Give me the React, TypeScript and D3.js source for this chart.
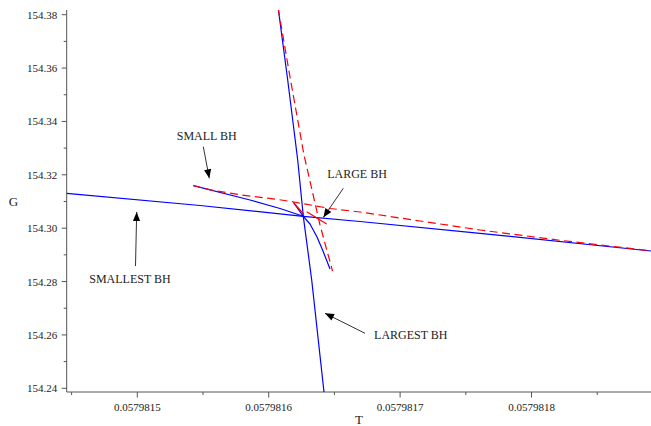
import React from "react";
import * as d3 from "d3";

// ---- data (T, G) ----
const xTicks = [0.0579815, 0.0579816, 0.0579817, 0.0579818];
const xMinorTicks = [0.05798145, 0.05798155, 0.05798165, 0.05798175, 0.05798185];
const yTicks = [154.24, 154.26, 154.28, 154.3, 154.32, 154.34, 154.36, 154.38];
const yMinorTicks = [154.25, 154.27, 154.29, 154.31, 154.33, 154.35, 154.37];

const T_DOMAIN = [0.05798144627, 0.05798189094];
const G_DOMAIN = [154.23861, 154.38176];

// blue, solid
const blueMain: [number, number][] = [
  [0.05798144627, 154.31307],
  [0.05798154772, 154.3085],
  [0.05798162633, 154.30445],
  [0.05798166948, 154.3025],
  [0.05798176081, 154.29808],
  [0.05798189094, 154.29145],
];
const blueSteep: [number, number][] = [
  [0.05798160731, 154.38214],
  [0.05798161446, 154.35553],
  [0.05798162207, 154.32555],
  [0.05798162633, 154.30445],
  [0.05798163272, 154.28058],
  [0.05798164208, 154.23861],
];
const blueSmall: [number, number][] = [
  [0.05798154262, 154.31592],
  [0.05798158577, 154.31056],
  [0.0579816086, 154.30738],
  [0.05798162633, 154.30445],
  [0.05798163143, 154.30157],
  [0.05798163676, 154.2967],
  [0.05798164132, 154.29145],
  [0.05798164665, 154.2847],
];
const blueKink: [number, number][] = [
  [0.05798161887, 154.30962],
  [0.05798162633, 154.30445],
];

// red, dashed
const redLong: [number, number][] = [
  [0.05798154262, 154.31599],
  [0.05798155685, 154.31423],
  [0.05798157816, 154.31251],
  [0.05798160609, 154.31082],
  [0.05798161925, 154.30981],
  [0.05798164665, 154.30738],
  [0.05798166948, 154.30606],
  [0.05798171514, 154.30269],
  [0.05798176081, 154.29932],
  [0.05798182169, 154.29546],
  [0.05798189094, 154.29152],
];
const redSteep: [number, number][] = [
  [0.05798160731, 154.38214],
  [0.05798161621, 154.35665],
  [0.05798162686, 154.32742],
  [0.05798163295, 154.31431],
  [0.05798163904, 154.30119],
  [0.05798164856, 154.28395],
];
// red, short solid pieces near the crossing
const redKinkA: [number, number][] = [
  [0.05798161887, 154.30962],
  [0.05798162686, 154.30513],
];
const redKinkB: [number, number][] = [
  [0.05798162892, 154.30618],
  [0.05798164414, 154.30157],
];

// annotations (data coordinates)
const labels = ["SMALL BH", "LARGE BH", "SMALLEST BH", "LARGEST BH"];
const labelT = [0.05798155282, 0.0579816672, 0.05798149444, 0.05798170814];
const labelG = [154.33323, 154.31899, 154.27946, 154.25847];
const arrowFromT = [0.05798155023, 0.05798165677, 0.05798149863, 0.05798167329];
const arrowFromG = [154.33053, 154.31494, 154.28583, 154.26061];
const arrowToT = [0.05798155479, 0.05798164155, 0.05798149954, 0.05798164285];
const arrowToG = [154.31869, 154.304, 154.30606, 154.2681];

const W = 651;
const H = 426;
const FONT = "'Liberation Serif', 'Times New Roman', serif";

export default function App() {
  const x = d3.scaleLinear().domain(T_DOMAIN).range([66.7, 651]);
  const y = d3.scaleLinear().domain(G_DOMAIN).range([392, 10]);
  const line = d3
    .line<[number, number]>()
    .x((d) => x(d[0]))
    .y((d) => y(d[1]));

  const [x0, x1] = x.range();
  const [y0, y1] = y.range();
  const fmtX = d3.format(".7f");
  const fmtY = d3.format(".2f");

  const arrowHead = (fx: number, fy: number, tx: number, ty: number) => {
    const dx = tx - fx;
    const dy = ty - fy;
    const len = Math.hypot(dx, dy);
    const ux = dx / len;
    const uy = dy / len;
    const L = 9;
    const Wd = 3.6;
    const bx = tx - ux * L;
    const by = ty - uy * L;
    return `M${tx},${ty}L${bx - uy * Wd},${by + ux * Wd}L${bx + uy * Wd},${by - ux * Wd}Z`;
  };

  const axisColor = "#555";
  const textColor = "#222";

  return (
    <svg
      width={W}
      height={H}
      style={{ position: "absolute", left: 0, top: 0, background: "#fff" }}
      fontFamily={FONT}
    >
      <defs>
        <clipPath id="plot">
          <rect x={x0} y={y1} width={x1 - x0} height={y0 - y1} />
        </clipPath>
      </defs>

      {/* axes */}
      <line x1={x0} x2={x1} y1={y0} y2={y0} stroke={axisColor} strokeWidth={1} />
      <line x1={x0} x2={x0} y1={y0} y2={y1} stroke={axisColor} strokeWidth={1} />

      {xTicks.map((t) => (
        <g key={"xt" + t}>
          <line x1={x(t)} x2={x(t)} y1={y0} y2={y0 + 5.5} stroke={axisColor} />
          <text
            x={x(t)}
            y={y0 + 18.5}
            textAnchor="middle"
            fontSize={11}
            fill={textColor}
          >
            {fmtX(t)}
          </text>
        </g>
      ))}
      {xMinorTicks.map((t) => (
        <line key={"xm" + t} x1={x(t)} x2={x(t)} y1={y0} y2={y0 + 3} stroke={axisColor} />
      ))}
      {yTicks.map((g) => (
        <g key={"yt" + g}>
          <line x1={x0 - 5} x2={x0} y1={y(g)} y2={y(g)} stroke={axisColor} />
          <text
            x={x0 - 9.5}
            y={y(g) + 4}
            textAnchor="end"
            fontSize={11}
            fill={textColor}
          >
            {fmtY(g)}
          </text>
        </g>
      ))}
      {yMinorTicks.map((g) => (
        <line key={"ym" + g} x1={x0 - 3} x2={x0} y1={y(g)} y2={y(g)} stroke={axisColor} />
      ))}

      <text x={359} y={424} textAnchor="middle" fontSize={13} fill={textColor}>
        T
      </text>
      <text x={13.5} y={206} textAnchor="middle" fontSize={13} fill={textColor}>
        G
      </text>

      {/* curves */}
      <g clipPath="url(#plot)" fill="none" strokeLinejoin="round">
        {[blueMain, blueSteep, blueSmall, blueKink].map((d, i) => (
          <path key={"b" + i} d={line(d) || ""} stroke="#0000ff" strokeWidth={1.2} />
        ))}
        {[redLong, redSteep].map((d, i) => (
          <path
            key={"r" + i}
            d={line(d) || ""}
            stroke="#ff0000"
            strokeWidth={1.2}
            strokeDasharray="8,4.5"
          />
        ))}
        {[redKinkA, redKinkB].map((d, i) => (
          <path key={"rk" + i} d={line(d) || ""} stroke="#ff0000" strokeWidth={1.2} />
        ))}
      </g>

      {/* annotations */}
      {labels.map((lab, i) => {
        const fx = x(arrowFromT[i]);
        const fy = y(arrowFromG[i]);
        const tx = x(arrowToT[i]);
        const ty = y(arrowToG[i]);
        return (
          <g key={lab}>
            <text
              x={x(labelT[i])}
              y={y(labelG[i])}
              textAnchor="middle"
              fontSize={12}
              fill={textColor}
            >
              {lab}
            </text>
            <line x1={fx} y1={fy} x2={tx} y2={ty} stroke="#333" strokeWidth={1} />
            <path d={arrowHead(fx, fy, tx, ty)} fill="#000" />
          </g>
        );
      })}
    </svg>
  );
}
